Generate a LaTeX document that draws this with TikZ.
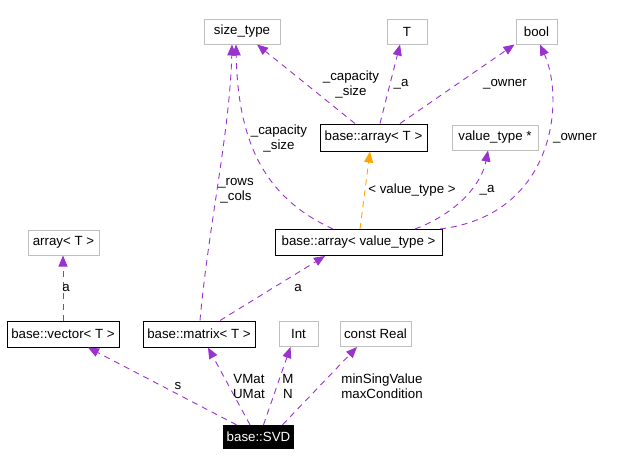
\documentclass[tikz,border=0pt]{standalone}
\usepackage{fontspec}
\setmainfont{Liberation Sans}
\usetikzlibrary{arrows.meta}
\definecolor{edgepurple}{RGB}{154,50,205}
\definecolor{boxgray}{RGB}{191,191,191}
\definecolor{tmplorange}{RGB}{255,165,0}

\begin{document}
\begin{tikzpicture}[x=1pt, y=-1pt, every node/.style={font=\fontsize{13.3}{15}\selectfont},
	cls/.style={draw=black, line width=1pt, minimum height=26pt, inner sep=0pt},
	ext/.style={draw=boxgray, line width=1pt, minimum height=25pt, inner sep=0pt},
	use/.style={draw=edgepurple, line width=0.9pt, dash pattern=on 6pt off 5pt, -{Triangle[length=11pt, width=9pt]}},
	tmpl/.style={use, draw=tmplorange},
	lbl/.style={align=center, inner sep=0pt}]
	\useasboundingbox (0,0) rectangle (635,467);
	% classes and types
	\node[ext, minimum width=76pt] (sizetype) at (242,31.5) {size\_type};
	\node[ext, minimum width=40pt] (tparam) at (407,31.5) {T};
	\node[ext, minimum width=41pt] (boolt) at (536.5,31.5) {bool};
	\node[cls, minimum width=107pt, minimum height=27pt] (arrayT) at (373.5,137.5) {base::array< T >};
	\node[ext, minimum width=86pt] (valueptr) at (495,137.5) {value\_type *};
	\node[cls, minimum width=167pt] (arrayvt) at (358.5,242.5) {base::array< value\_type >};
	\node[ext, minimum width=71pt] (arrayt) at (63.5,242.5) {array< T >};
	\node[cls, minimum width=112pt] (vector) at (63,334) {base::vector< T >};
	\node[cls, minimum width=112pt] (matrix) at (199,334) {base::matrix< T >};
	\node[ext, minimum width=39pt] (intt) at (298.5,334) {Int};
	\node[ext, minimum width=71pt] (real) at (375.5,334) {const Real};
	\node[fill=black, text=white, minimum width=71pt, minimum height=24pt, inner sep=0pt] (svd) at (258.5,437) {base::SVD};
	% members of base::SVD
	\draw[use] ([xshift=-22pt]svd.north) -- ([xshift=25pt]vector.south);
	\draw[use] ([xshift=-8.5pt]svd.north) -- ([xshift=9pt]matrix.south);
	\draw[use] ([xshift=5pt]svd.north) -- ([xshift=-8pt]intt.south);
	\draw[use] ([xshift=24pt]svd.north) -- ([xshift=-18.5pt]real.south);
	\draw[use] (vector.north) -- (vector.north |- arrayt.south);
	\draw[use] ([xshift=21pt]matrix.north) -- ([xshift=-33.5pt]arrayvt.south);
	\draw[use] ([xshift=1pt]matrix.north) .. controls (208,230) and (230,130) .. ([xshift=-10pt]sizetype.south);
	% members of the arrays
	\draw[use] ([xshift=-25.5pt]arrayvt.north) .. controls (270,200) and (238,150) .. ([xshift=-6pt]sizetype.south);
	\draw[tmpl] ([xshift=1.5pt]arrayvt.north) -- ([xshift=-3.5pt]arrayT.south);
	\draw[use] ([xshift=56.5pt]arrayvt.north) .. controls (460,212) and (482,182) .. ([xshift=-7pt]valueptr.south);
	\draw[use] ([xshift=81.5pt]arrayvt.north) .. controls (555,215) and (565,100) .. ([xshift=3.5pt]boolt.south);
	\draw[use] ([xshift=-18.5pt]arrayT.north) -- ([xshift=15pt]sizetype.south);
	\draw[use] ([xshift=6.5pt]arrayT.north) -- ([xshift=-7pt]tparam.south);
	\draw[use] ([xshift=26.5pt]arrayT.north) -- ([xshift=-22pt]boolt.south);
	% edge labels
	\foreach \n/\x/\y/\t in {lcapT/351/84/{\_capacity\\\_size}, laT/401/84/{\_a}, lownT/505/84/{\_owner},
		lcapV/279/138.5/{\_capacity\\\_size}, lownV/575/138/{\_owner}, lrows/236/191/{\_rows\\\_cols},
		lvt/412/190/{< value\_type >}, laV/487/190/{\_a}, lavec/66/288/{a}, lamat/298/288/{a},
		ls/178/386/{s}, lmat/249/386/{VMat\\UMat}, lint/288/386/{M\\N}, lreal/382/386/{minSingValue\\maxCondition}}
		{\node[lbl] (\n) at (\x,\y) {\t};}
\end{tikzpicture}
\end{document}
